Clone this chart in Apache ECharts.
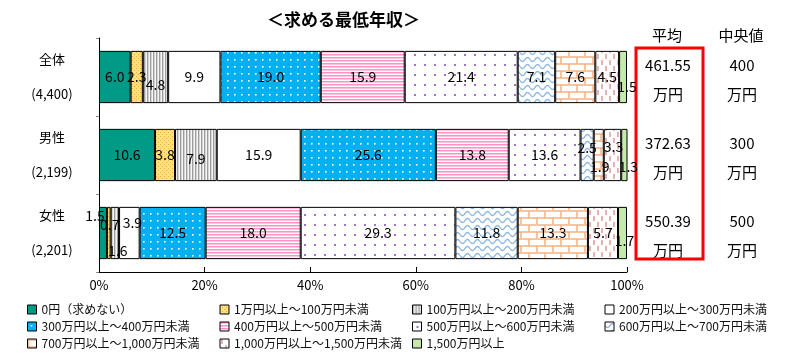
<!DOCTYPE html>
<html>
<head>
<meta charset="utf-8">
<script src="https://cdn.jsdelivr.net/npm/echarts@6/dist/echarts.min.js"></script>
<style>
html,body{margin:0;padding:0;background:#fff;}
#main{width:798px;height:355px;}
</style>
</head>
<body>
<div id="main"></div>
<script>
// ---------- DATA ----------
const categories = ['全体', '男性', '女性'];
const sampleSizes = ['4,400', '2,199', '2,201'];
const seriesNames = [
  '0円（求めない）', '1万円以上～100万円未満', '100万円以上～200万円未満', '200万円以上～300万円未満',
  '300万円以上～400万円未満', '400万円以上～500万円未満', '500万円以上～600万円未満', '600万円以上～700万円未満',
  '700万円以上～1,000万円未満', '1,000万円以上～1,500万円未満', '1,500万円以上'
];
const share0 = [6.0, 10.6, 1.5];
const share1to100 = [2.3, 3.8, 0.7];
const share100to200 = [4.8, 7.9, 1.6];
const share200to300 = [9.9, 15.9, 3.9];
const share300to400 = [19.0, 25.6, 12.5];
const share400to500 = [15.9, 13.8, 18.0];
const share500to600 = [21.4, 13.6, 29.3];
const share600to700 = [7.1, 2.5, 11.8];
const share700to1000 = [7.6, 1.9, 13.3];
const share1000to1500 = [4.5, 3.3, 5.7];
const share1500plus = [1.5, 1.3, 1.7];
const meanValues = ['461.55', '372.63', '550.39'];
const medianValues = ['400', '300', '500'];
const meanHeader = '平均';
const medianHeader = '中央値';
const unitText = '万円';
const titleText = '＜求める最低年収＞';

const seriesValues = [share0, share1to100, share100to200, share200to300, share300to400,
  share400to500, share500to600, share600to700, share700to1000, share1000to1500, share1500plus];

// ---------- STYLE ----------
const FONT = '"Noto Sans CJK JP", "Noto Sans", sans-serif';
function tile(w, h, draw) {
  const c = document.createElement('canvas');
  c.width = w; c.height = h;
  const g = c.getContext('2d');
  draw(g, w, h);
  return { image: c, repeat: 'repeat' };
}
const fills = [
  '#009A87',
  tile(4, 4, (g) => { g.fillStyle = '#FFE27E'; g.fillRect(0,0,4,4); g.fillStyle = '#F2A93B'; g.fillRect(0,0,1,1); g.fillRect(2,2,1,1); }),
  tile(3, 1, (g) => { g.fillStyle = '#F6F6F6'; g.fillRect(0,0,3,1); g.fillStyle = '#9C9C9C'; g.fillRect(0,0,1,1); g.fillStyle = '#D4D4D4'; g.fillRect(1,0,1,1); }),
  '#FFFFFF',
  tile(7, 7, (g) => { g.fillStyle = '#00B0F0'; g.fillRect(0,0,7,7); g.fillStyle = '#FFFFFF'; g.fillRect(3,3,1.6,1.6); }),
  tile(1, 3, (g) => { g.fillStyle = '#FFFFFF'; g.fillRect(0,0,1,3); g.fillStyle = '#FF92C8'; g.fillRect(0,0,1,1); g.fillStyle = '#FFC4E1'; g.fillRect(0,1,1,1); }),
  tile(10, 10, (g) => { g.fillStyle = '#FFFFFF'; g.fillRect(0,0,10,10); g.fillStyle = '#A070D0'; g.fillRect(4,4,2,2); }),
  tile(10, 7, (g) => { g.fillStyle = '#FFFFFF'; g.fillRect(0,0,10,7); g.strokeStyle = '#8DB8E4'; g.lineWidth = 1.4; g.beginPath();
    for (let x = 0; x <= 10; x += 0.5) { const y = 3.5 + 2 * Math.sin(2 * Math.PI * x / 10); if (x === 0) g.moveTo(x, y); else g.lineTo(x, y); } g.stroke(); }),
  tile(16, 14, (g) => { g.fillStyle = '#FFFFFF'; g.fillRect(0,0,16,14); g.strokeStyle = '#F4B183'; g.lineWidth = 1.5; g.beginPath();
    g.moveTo(0,1); g.lineTo(16,1); g.moveTo(0,8); g.lineTo(16,8); g.moveTo(1,1); g.lineTo(1,8); g.moveTo(9,8); g.lineTo(9,14); g.stroke(); }),
  tile(8, 12, (g) => { g.fillStyle = '#FFFFFF'; g.fillRect(0,0,8,12); g.strokeStyle = '#D99594'; g.lineWidth = 1.4; g.beginPath();
    g.moveTo(2,0); g.lineTo(2,5); g.moveTo(6,6); g.lineTo(6,11); g.stroke(); }),
  '#C4EBAA'
];
// label nudges [seriesIndex][categoryIndex] -> [dx, dy]
const labelNudge = {
  '2-0': [0, 8], '10-0': [4, 10],
  '2-1': [0, 4], '7-1': [0, -7], '8-1': [1, 12], '9-1': [1, -8], '10-1': [4, 12],
  '0-2': [-8, -17], '1-2': [1, -8], '2-2': [3, 18], '3-2': [3, -10], '10-2': [2, 8]
};

const chart = echarts.init(document.getElementById('main'), null, { renderer: 'canvas' });

const series = seriesValues.map((vals, si) => ({
  name: seriesNames[si],
  type: 'bar',
  stack: 'total',
  barCategoryGap: '33%',
  itemStyle: { color: fills[si], borderColor: '#000', borderWidth: 1 },
  label: {
    show: true, position: 'inside', color: '#000', fontSize: 14, fontFamily: FONT,
    formatter: (p) => Number(p.value).toFixed(1)
  },
  emphasis: { disabled: true },
  data: vals.map((v, ci) => {
    const n = labelNudge[si + '-' + ci];
    return n ? { value: v, label: { offset: n } } : { value: v };
  })
}));

chart.setOption({
  animation: false,
  textStyle: { fontFamily: FONT },
  title: {
    text: titleText, left: 262, top: 6,
    textStyle: { fontSize: 17, fontWeight: 'bold', color: '#000', fontFamily: FONT }
  },
  grid: { left: 99, right: 171, top: 38, bottom: 83 },
  xAxis: {
    type: 'value', min: 0, max: 100, interval: 20,
    axisLine: { show: true, lineStyle: { color: '#000', width: 1 } },
    axisTick: { show: true, inside: true, length: 5, lineStyle: { color: '#000' } },
    splitLine: { show: false },
    axisLabel: { formatter: '{value}%', color: '#000', fontSize: 13, margin: 7, fontFamily: FONT }
  },
  yAxis: {
    type: 'category', data: categories, inverse: true,
    axisLine: { show: true, lineStyle: { color: '#000', width: 1 } },
    axisTick: { show: true, length: 3, lineStyle: { color: '#888' } },
    axisLabel: {
      align: 'center', margin: 47, color: '#000', fontFamily: FONT,
      formatter: (v, i) => '{a|' + v + '}\n{b|(' + sampleSizes[i] + ')}',
      rich: { a: { fontSize: 13, lineHeight: 35, fontFamily: FONT, color: '#000' },
              b: { fontSize: 13, lineHeight: 35, fontFamily: FONT, color: '#000' } }
    }
  },
  legend: {
    data: seriesNames, left: 22, top: 296, width: 780, itemGap: 0,
    itemWidth: 9, itemHeight: 9, icon: 'rect',
    itemStyle: { borderColor: '#000', borderWidth: 1 },
    selectedMode: false,
    textStyle: { fontSize: 12, color: '#111', width: 178, lineHeight: 17, fontFamily: FONT }
  },
  series: series
});

// right-side table of mean/median, positioned via the category axis
const g = [];
g.push({ type: 'text', x: 667, y: 35, style: { text: meanHeader, font: '15px ' + FONT, fill: '#000', align: 'center', verticalAlign: 'middle' } });
g.push({ type: 'text', x: 741, y: 35, style: { text: medianHeader, font: '15px ' + FONT, fill: '#000', align: 'center', verticalAlign: 'middle' } });
categories.forEach((c, i) => {
  const y = chart.convertToPixel({ yAxisIndex: 0 }, c);
  g.push({ type: 'text', x: 668, y: y - 12, style: { text: meanValues[i], font: '15px ' + FONT, fill: '#000', align: 'center', verticalAlign: 'middle' } });
  g.push({ type: 'text', x: 668, y: y + 17, style: { text: unitText, font: '15px ' + FONT, fill: '#000', align: 'center', verticalAlign: 'middle' } });
  g.push({ type: 'text', x: 742, y: y - 12, style: { text: medianValues[i], font: '15px ' + FONT, fill: '#000', align: 'center', verticalAlign: 'middle' } });
  g.push({ type: 'text', x: 742, y: y + 17, style: { text: unitText, font: '15px ' + FONT, fill: '#000', align: 'center', verticalAlign: 'middle' } });
});
g.push({ type: 'rect', shape: { x: 636, y: 48, width: 67, height: 211 }, style: { fill: 'none', stroke: '#FF0000', lineWidth: 3 } });
chart.setOption({ graphic: g });
</script>
</body>
</html>
